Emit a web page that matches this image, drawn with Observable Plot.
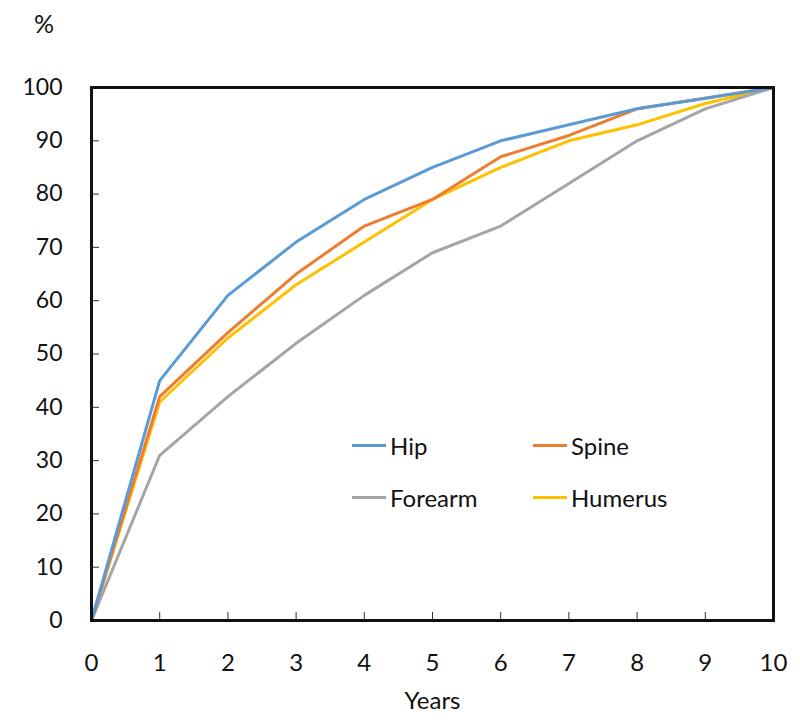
<!DOCTYPE html>
<html>
<head>
<meta charset="utf-8">
<script src="https://cdn.jsdelivr.net/npm/d3@7"></script>
<script src="https://cdn.jsdelivr.net/npm/@observablehq/plot@0.6"></script>
<style>
  body { margin: 0; background: #fff; font-family: Lato, "Open Sans", sans-serif; }
  #wrap { position: relative; width: 800px; height: 725px; }
  .lbl { position: absolute; font-size: 25px; color: #111; }
  #legend { position: absolute; left: 352px; top: 431px; font-size: 24px; color: #111; }
  .item { position: absolute; display: flex; align-items: center; white-space: nowrap; }
  .sw { width: 34px; height: 3px; margin-right: 4px; }
</style>
</head>
<body>
<div id="wrap">
  <div class="lbl" style="left:34px; top:8px;">%</div>
  <div id="legend"></div>
</div>
<script>
const years = [0, 1, 2, 3, 4, 5, 6, 7, 8, 9, 10];
const hip      = [0, 45, 61, 71, 79, 85, 90, 93, 96, 98, 100];
const spine    = [0, 42, 54, 65, 74, 79, 87, 91, 96, 98, 100];
const forearm  = [0, 31, 42, 52, 61, 69, 74, 82, 90, 96, 100];
const humerus  = [0, 41, 53, 63, 71, 79, 85, 90, 93, 97, 100];
const seriesNames = ["Hip", "Spine", "Forearm", "Humerus"];
const seriesColors = ["#5B9BD5", "#ED7D31", "#A5A5A5", "#FFC000"];
const xTicks = [0, 1, 2, 3, 4, 5, 6, 7, 8, 9, 10];
const yTicks = [0, 10, 20, 30, 40, 50, 60, 70, 80, 90, 100];

const allSeries = [hip, spine, forearm, humerus];
const rows = [];
allSeries.forEach((vals, i) => vals.forEach((v, j) => rows.push({series: seriesNames[i], year: years[j], value: v})));

const chart = Plot.plot({
  width: 800,
  height: 725,
  marginLeft: 91,
  marginRight: 27,
  marginTop: 87,
  marginBottom: 105,
  style: { fontFamily: "Lato, 'Open Sans', sans-serif", fontSize: "23px", color: "#111", background: "white" },
  x: { domain: [0, 10] },
  y: { domain: [0, 100] },
  color: { domain: seriesNames, range: seriesColors },
  marks: [
    ...["Humerus", "Forearm", "Spine", "Hip"].map(s =>
      Plot.line(rows.filter(d => d.series === s), { x: "year", y: "value", stroke: "series", strokeWidth: 3 })
    ),
    Plot.axisX({ ticks: xTicks, tickSize: 8, dy: -8, tickFormat: () => "", label: null, stroke: "#333" }),
    Plot.axisX({ ticks: xTicks, tickSize: 0, tickPadding: 33, label: "Years", labelAnchor: "center", labelOffset: 88, labelArrow: "none", fontSize: 24 }),
    Plot.axisY({ ticks: yTicks, tickSize: 8, dx: 8, tickFormat: () => "", label: null, stroke: "#333" }),
    Plot.axisY({ ticks: yTicks, tickSize: 0, tickPadding: 29, label: null, fontSize: 23 }),
    Plot.frame({ stroke: "#111", strokeWidth: 3 })
  ]
});
document.getElementById("wrap").prepend(chart);

const legend = document.getElementById("legend");
const pos = [[0, 0], [181, 0], [0, 52], [181, 52]];
seriesNames.forEach((name, i) => {
  const it = document.createElement("div");
  it.className = "item";
  it.style.left = pos[i][0] + "px";
  it.style.top = pos[i][1] + "px";
  it.innerHTML = `<span class="sw" style="background:${seriesColors[i]}"></span><span>${name}</span>`;
  legend.appendChild(it);
});
</script>
</body>
</html>
